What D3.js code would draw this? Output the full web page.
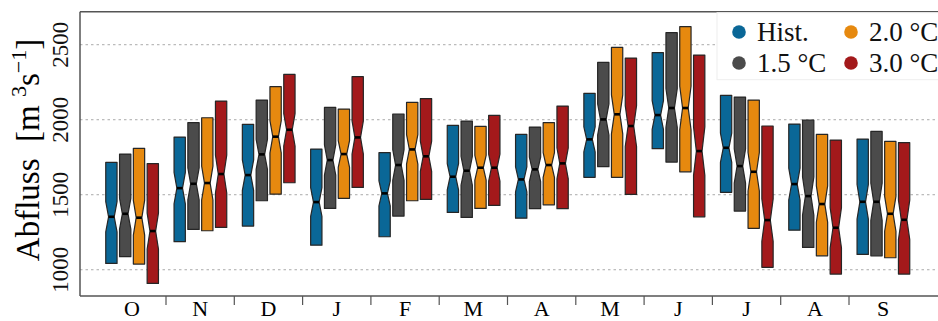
<!DOCTYPE html>
<html><head><meta charset="utf-8">
<script src="https://cdn.jsdelivr.net/npm/d3@7"></script>
<style>html,body{margin:0;padding:0;background:#fff;}svg{display:block;font-family:"Liberation Serif","Times New Roman",Times,serif;}</style>
</head><body><svg id="c" width="938" height="321"></svg>
<script>
const months = ["O","N","D","J","F","M","A","M","J","J","A","S"];
const seriesNames = ["Hist.","1.5 °C","2.0 °C","3.0 °C"];
const seriesColors = ["#0a6797","#4b4b4b","#e6890f","#a3191b"];
const yTicks = [1000,1500,2000,2500];
// [low, median, high] per month
const hist = [[1042,1353,1716],[1187,1544,1884],[1291,1631,1969],[1164,1451,1804],[1220,1509,1780],[1382,1620,1962],[1344,1602,1902],[1616,1869,2176],[1807,2031,2447],[1516,1813,2162],[1264,1571,1971],[1102,1453,1871]];
const deg15 = [[1087,1373,1771],[1269,1573,1980],[1460,1769,2131],[1409,1731,2082],[1358,1698,2038],[1349,1660,1991],[1407,1669,1951],[1687,2002,2382],[1718,2078,2580],[1391,1691,2151],[1149,1491,1998],[1093,1453,1922]];
const deg20 = [[1038,1347,1809],[1260,1578,2013],[1504,1887,2220],[1476,1771,2071],[1460,1802,2116],[1409,1680,1956],[1433,1698,1980],[1616,2036,2482],[1653,2078,2620],[1276,1653,2131],[1093,1438,1902],[1080,1373,1856]];
const deg30 = [[909,1258,1707],[1282,1638,2124],[1580,1933,2302],[1549,1882,2287],[1469,1756,2140],[1429,1680,2029],[1407,1709,2091],[1502,1958,2411],[1353,1791,2431],[1016,1331,1958],[971,1280,1864],[971,1333,1847]];
const allSeries = [hist, deg15, deg20, deg30];

const svg = d3.select("#c");
const L = 80, T = 11.7, B = 296, R = 940;
const y = d3.scaleLinear().domain([825, 2720]).range([B, T]);
const x = d3.scaleBand().domain(d3.range(months.length)).range([97.7, 917.3]).paddingInner(0).paddingOuter(0);
const inner = d3.scaleBand().domain(d3.range(4)).range([6.8, 62.0]);
const boxW = 11.3;

// gridlines
svg.append("g").selectAll("line").data(yTicks).join("line")
  .attr("x1", L).attr("x2", R).attr("y1", d=>y(d)).attr("y2", d=>y(d))
  .attr("stroke", "#aaa").attr("stroke-width", 1).attr("stroke-dasharray", "2.5,3");

// boxes
const gBoxes = svg.append("g");
allSeries.forEach((ser, si) => {
  ser.forEach((d, mi) => {
    const [lo, med, hi] = d;
    const cx = x(mi) + inner(si) + inner.bandwidth()/2;
    const x0 = cx - boxW/2, x1 = cx + boxW/2, nw = boxW*0.25;
    const notch = 0.15*(hi-lo);
    const yHi = y(hi), yLo = y(lo), yM = y(med), yNT = y(med+notch), yNB = y(med-notch);
    const p = `M${x0},${yHi}L${x1},${yHi}L${x1},${yNT}L${cx+nw},${yM}L${x1},${yNB}L${x1},${yLo}L${x0},${yLo}L${x0},${yNB}L${cx-nw},${yM}L${x0},${yNT}Z`;
    gBoxes.append("path").attr("d", p).attr("fill", seriesColors[si])
      .attr("stroke", "#262626").attr("stroke-width", 1.2).attr("stroke-linejoin", "round");
    gBoxes.append("line").attr("x1", cx-nw).attr("x2", cx+nw).attr("y1", yM).attr("y2", yM)
      .attr("stroke", "#000").attr("stroke-width", 2.6);
  });
});

// frame
const fc = "#555";
svg.append("line").attr("x1", L).attr("x2", L).attr("y1", T).attr("y2", B).attr("stroke", fc).attr("stroke-width", 1.5);
svg.append("line").attr("x1", L).attr("x2", R).attr("y1", T).attr("y2", T).attr("stroke", fc).attr("stroke-width", 1.5);
svg.append("line").attr("x1", L).attr("x2", R).attr("y1", B).attr("y2", B).attr("stroke", fc).attr("stroke-width", 1.5);

// x ticks at interior boundaries
svg.append("g").selectAll("line").data(d3.range(1, months.length)).join("line")
  .attr("x1", d=>x(d)).attr("x2", d=>x(d)).attr("y1", B).attr("y2", B+9)
  .attr("stroke", fc).attr("stroke-width", 1.2);
svg.append("g").selectAll("text").data(months).join("text")
  .attr("x", (d,i)=>x(i)+x.bandwidth()/2).attr("y", 316)
  .attr("text-anchor", "middle").attr("font-size", 22).attr("fill", "#000").text(d=>d);

// y tick labels
svg.append("g").selectAll("text").data(yTicks).join("text")
  .attr("transform", d=>`translate(68,${y(d)}) rotate(-90)`)
  .attr("text-anchor", "middle").attr("font-size", 23).attr("fill", "#111").text(d=>d);

// y title
const tt = svg.append("text").attr("transform", "translate(39,150) rotate(-90)")
  .attr("text-anchor", "middle").attr("font-size", 33).attr("fill", "#000");
tt.append("tspan").text("Abfluss\u00a0\u00a0[m\u00a0");
tt.append("tspan").attr("font-size", 22).attr("dy", -13).text("3");
tt.append("tspan").attr("dy", 13).text("s");
tt.append("tspan").attr("font-size", 22).attr("dy", -13).text("\u22121");
tt.append("tspan").attr("dy", 13).text("]");

// legend
svg.append("rect").attr("x", 717).attr("y", T+1).attr("width", 230).attr("height", 67)
  .attr("fill", "#fff").attr("stroke", "#eee");
const legPos = [[739,32],[739,63],[851,32],[851,63]];
const lg = svg.append("g");
seriesNames.forEach((n, i) => {
  const [cx, cy] = legPos[i];
  lg.append("circle").attr("cx", cx).attr("cy", cy).attr("r", 6.8).attr("fill", seriesColors[i]);
  lg.append("text").attr("x", cx+18).attr("y", cy+8.5).attr("font-size", 27).attr("fill", "#111").text(n);
});
</script></body></html>
